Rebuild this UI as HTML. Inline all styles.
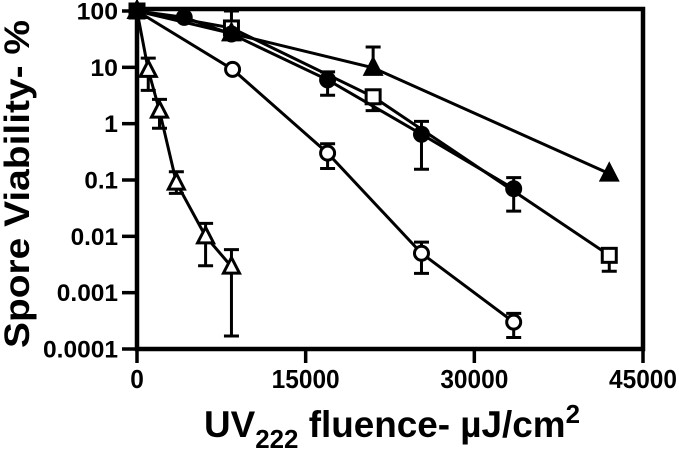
<!DOCTYPE html>
<html><head><meta charset="utf-8"><style>
html,body{margin:0;padding:0;background:#fff;}
svg{display:block;font-family:"Liberation Sans",Arial,sans-serif;font-weight:bold;}
</style></head><body>
<svg id="chart" width="679" height="450" viewBox="0 0 679 450" xmlns="http://www.w3.org/2000/svg">
<g id="plot"></g>
<g id="axes"></g>
<text transform="translate(29,184) rotate(-90)" text-anchor="middle" font-size="35" textLength="328" lengthAdjust="spacingAndGlyphs">Spore Viability- %</text>
<text x="204" y="437" font-size="37" textLength="376" lengthAdjust="spacingAndGlyphs"><tspan>UV</tspan><tspan font-size="26" dy="11">222</tspan><tspan dy="-11"> fluence- µJ/cm</tspan><tspan font-size="26" dy="-14">2</tspan></text>
</svg>
<script>
const xTicks=[0,15000,30000,45000];
const xTickLabels=["0","15000","30000","45000"];
const yTicks=[100,10,1,0.1,0.01,0.001,0.0001];
const yTickLabels=["100","10","1","0.1","0.01","0.001","0.0001"];

const openTriX=[0,1000,2000,3500,6100,8400];
const openTriY=[100,9,1.7,0.09,0.01,0.0029];
const openTriHi=[null,14.6,2.7,0.14,0.017,0.0058];
const openTriLo=[null,3.9,0.83,0.058,0.003,0.00017];

const openCircX=[0,8500,16950,25300,33500];
const openCircY=[100,9.2,0.3,0.005,0.0003];
const openCircHi=[null,null,0.44,0.0079,0.00043];
const openCircLo=[null,null,0.16,0.0022,0.00016];

const fillCircX=[0,4200,8400,16950,25300,33500];
const fillCircY=[100,77,39,6,0.65,0.07];
const fillCircHi=[null,null,null,8.3,1.1,0.11];
const fillCircLo=[null,null,null,3.2,0.155,0.028];

const openSqX=[0,8400,21000,42000];
const openSqY=[100,50,3,0.0046];
const openSqHi=[null,100,null,null];
const openSqLo=[null,null,1.7,0.0024];

const fillTriX=[0,8400,21000,42000];
const fillTriY=[100,40,9.8,0.13];
const fillTriHi=[null,null,23,null];
const fillTriLo=[null,null,null,null];

const X0=137,X1=643,Y0=11,Y1=349;
function sx(v){return X0+(v/45000)*(X1-X0);}
function sy(v){return Y0+(2-Math.log10(v))/6*(Y1-Y0);}
const NS="http://www.w3.org/2000/svg";
const plot=document.getElementById('plot'),axes=document.getElementById('axes');
function mk(tag,attrs,parent){const e=document.createElementNS(NS,tag);for(const k in attrs)e.setAttribute(k,attrs[k]);parent.appendChild(e);return e;}

function series(name,xs,ys,hi,lo,marker,fill){
  const g=mk('g',{},plot);
  
  
  const l=mk('polyline',{points:xs.map((x,i)=>sx(x)+','+sy(ys[i])).join(' '),fill:'none',stroke:'#000','stroke-width':3},g);
  
  
  xs.forEach((x,i)=>{
    const cx=sx(x),cy=sy(ys[i]);
    [hi[i],lo[i]].forEach(v=>{
      if(v==null)return;
      const ey=sy(v);
      const eb=mk('path',{d:`M${cx},${cy}V${ey}M${cx-7.5},${ey}H${cx+7.5}`,stroke:'#000','stroke-width':3,fill:'none'},g);
      
      
    });
    let m;
    const f=fill?'#000':'#fff';
    if(marker==='circle')m=mk('circle',{cx,cy,r:7,fill:f,stroke:'#000','stroke-width':3},g);
    else if(marker==='square')m=mk('rect',{x:cx-7,y:cy-7,width:14,height:14,fill:f,stroke:'#000','stroke-width':3},g);
    else m=mk('polygon',{points:`${cx},${cy-9} ${cx+8},${cy+6.5} ${cx-8},${cy+6.5}`,fill:f,stroke:'#000','stroke-width':3},g);
    
    
  });
}
series('open-triangle',openTriX,openTriY,openTriHi,openTriLo,'tri',false);
series('open-circle',openCircX,openCircY,openCircHi,openCircLo,'circle',false);
series('open-square',openSqX,openSqY,openSqHi,openSqLo,'square',false);
series('filled-triangle',fillTriX,fillTriY,fillTriHi,fillTriLo,'tri',true);
series('filled-circle',fillCircX,fillCircY,fillCircHi,fillCircLo,'circle',true);

const frame=mk('rect',{x:X0,y:Y0-2,width:X1-X0,height:Y1-Y0+2,fill:'none',stroke:'#000','stroke-width':4.5},axes);


xTicks.forEach((v,i)=>{
  const x=sx(v);
  const t=mk('line',{x1:x,x2:x,y1:Y1,y2:Y1+14,stroke:'#000','stroke-width':3.5},axes);
  
  
  const tx=mk('text',{x:x,y:388,'text-anchor':'middle','font-size':26,textLength:xTickLabels[i].length*13.6,lengthAdjust:'spacingAndGlyphs'},axes);
  tx.textContent=xTickLabels[i];
  
  
});
yTicks.forEach((v,i)=>{
  const y=sy(v);
  const t=mk('line',{x1:X0-15,x2:X0,y1:y,y2:y,stroke:'#000','stroke-width':3.5},axes);
  
  
  const s=yTickLabels[i];
  const w=s.replace(/\./g,'').length*13.8+(s.includes('.')?6:0);
  const tx=mk('text',{x:118,y:y+8.5,'text-anchor':'end','font-size':24,textLength:w,lengthAdjust:'spacingAndGlyphs'},axes);
  tx.textContent=s;
  
  
});
</script>
</body></html>
